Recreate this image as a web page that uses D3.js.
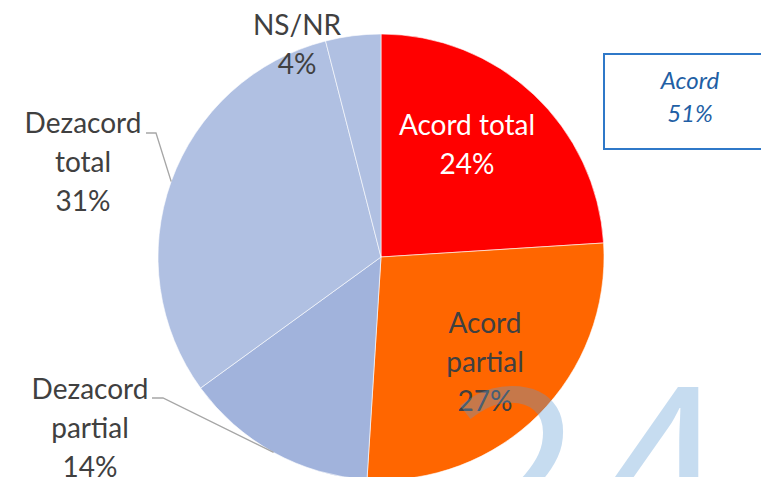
<!DOCTYPE html>
<html><head><meta charset="utf-8">
<script src="https://cdn.jsdelivr.net/npm/d3@7"></script>
<style>html,body{margin:0;padding:0;background:#fff;overflow:hidden}svg{display:block}</style>
</head><body>
<svg id="c" width="761" height="477"></svg>
<script>
const categories = ["Acord total", "Acord partial", "Dezacord partial", "Dezacord total", "NS/NR"];
const values = [24, 27, 14, 31, 4];
const colors = ["#FF0000", "#FF6600", "#A1B3DC", "#B0C0E2", "#B0C0E2"];
const summaryLabel = "Acord";
const summaryValue = 51;
const watermark = "24";

const svg = d3.select("#c");
const cx = 381, cy = 257, R = 223;
const font = "Lato, 'Open Sans', sans-serif";

const pie = d3.pie().sort(null).value(d => d)(values);
const arc = d3.arc().innerRadius(0).outerRadius(R);
const g = svg.append("g").attr("transform", `translate(${cx},${cy})`);
g.selectAll("path").data(pie).join("path")
  .attr("d", arc).attr("fill", (d, i) => colors[i])
  .attr("stroke", "#fff").attr("stroke-width", 0.6);

// label layouts: lines + offsets relative to centre
const labelLines = [
  ["Acord total"],
  ["Acord", "partial"],
  ["Dezacord", "partial"],
  ["Dezacord", "total"],
  ["NS/NR"]
];
const labelPos = [[86, -122], [104, 76], [-291, 142], [-298, -124], [-84, -222]];
const labelColor = ["#fff", "#404040", "#404040", "#404040", "#404040"];
const lineH = 39;
pie.forEach((d, i) => {
  const t = g.append("text").attr("text-anchor", "middle")
    .attr("font-family", font).attr("font-size", 28).attr("fill", labelColor[i]);
  const lines = labelLines[i].concat([`${values[i]}%`]);
  lines.forEach((ln, k) => {
    t.append("tspan").attr("x", labelPos[i][0]).attr("y", labelPos[i][1] + k * lineH).text(ln);
  });
});

// leader lines for outside labels
const leaderFrac = [0, 0, 0.5, 0.5, 0];
function leader(i, x0, y0, x1) {
  const d = pie[i];
  const a = d.startAngle + (d.endAngle - d.startAngle) * leaderFrac[i];
  const ex = Math.sin(a) * R, ey = -Math.cos(a) * R;
  g.append("polyline").attr("points", `${x0},${y0} ${x1},${y0} ${ex},${ey}`)
    .attr("fill", "none").attr("stroke", "#A6A6A6").attr("stroke-width", 1.3);
}
leader(2, -229, 141, -218);
leader(3, -235, -124, -225);

// watermark
svg.append("text").attr("x", 446).attr("y", 560)
  .attr("font-family", "'Open Sans', sans-serif").attr("font-weight", 400)
  .attr("letter-spacing", 8)
  .attr("font-size", 240).attr("fill", "rgb(91,155,213)").attr("fill-opacity", 0.35)
  .text(watermark);

// summary box
svg.append("rect").attr("x", 604).attr("y", 54).attr("width", 170).attr("height", 95)
  .attr("fill", "#fff").attr("stroke", "#2F78C8").attr("stroke-width", 2);
const st = svg.append("text").attr("text-anchor", "middle").attr("font-family", font)
  .attr("font-style", "italic").attr("font-size", 24).attr("fill", "#1F5FA5");
st.append("tspan").attr("x", 690).attr("y", 89).text(summaryLabel);
st.append("tspan").attr("x", 690).attr("y", 122).text(`${summaryValue}%`);
</script>
</body></html>
